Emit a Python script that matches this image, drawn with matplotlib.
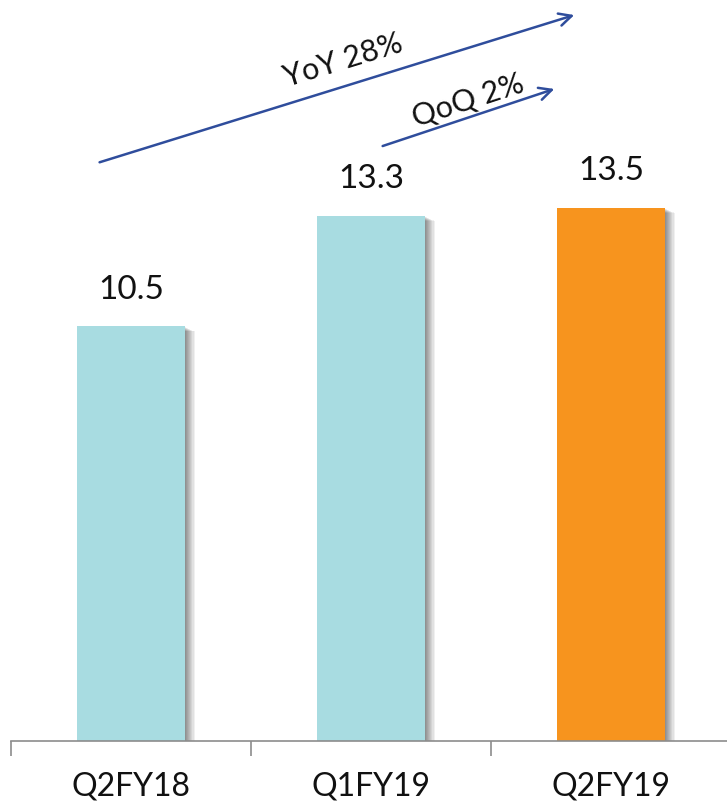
import matplotlib.pyplot as plt
import matplotlib.patches as mpatches

plt.rcParams['font.family'] = ['Lato', 'DejaVu Sans']

# quarterly values
quarters = ['Q2FY18', 'Q1FY19', 'Q2FY19']
values = [10.5, 13.3, 13.5]
bar_colors = ['#a8dce1', '#a8dce1', '#f7941e']
growth_labels = ['YoY 28%', 'QoQ 2%']

fig = plt.figure(figsize=(7.27, 8.07), dpi=100)
ax = fig.add_axes([11 / 727, 66 / 807, 720 / 727, 741 / 807])

x = range(len(quarters))
width = 0.45

# soft drop shadow to the right of each bar
for i, v in zip(x, values):
    for k in range(9):
        off = 0.004 + k * 0.0045
        ax.add_patch(mpatches.Rectangle((i - width / 2 + off, 0), width, v - 0.03 - k * 0.012,
                                        facecolor='#000000', alpha=0.06,
                                        edgecolor='none', zorder=1))

ax.bar(x, values, width=width, color=bar_colors, zorder=2)

for i, v in zip(x, values):
    ax.text(i, v + 0.55, f'{v}', ha='center', va='bottom', fontsize=24, color='#111111')

ax.set_xlim(-0.5, 2.5)
ax.set_ylim(0, 741 / 39.5)

# growth arrows
arrow_kw = dict(arrowstyle='->,head_length=0.9,head_width=0.45', color='#2f4d9c', lw=1.8)
ax.annotate('', xy=(1.858, 18.4), xytext=(-0.142, 14.63), arrowprops=arrow_kw)
ax.annotate('', xy=(1.775, 16.53), xytext=(1.0375, 15.04), arrowprops=arrow_kw)
ax.text(0.883, 17.24, growth_labels[0], rotation=17, ha='center', va='center',
        fontsize=22, color='#111111', rotation_mode='anchor')
ax.text(1.404, 16.23, growth_labels[1], rotation=18, ha='center', va='center',
        fontsize=22, color='#111111', rotation_mode='anchor')

for side in ['left', 'right', 'top']:
    ax.spines[side].set_visible(False)
ax.spines['bottom'].set_color('#8c8c8c')
ax.spines['bottom'].set_linewidth(1.2)

ax.set_yticks([])
ax.set_xticks(list(x))
ax.set_xticklabels(quarters, fontsize=23, color='#111111')
ax.tick_params(axis='x', which='major', length=0, pad=22)
ax.set_xticks([-0.5, 0.5, 1.5, 2.5], minor=True)
ax.tick_params(axis='x', which='minor', length=11, width=1.2, color='#8c8c8c')

fig.savefig('out.png', dpi=100)
